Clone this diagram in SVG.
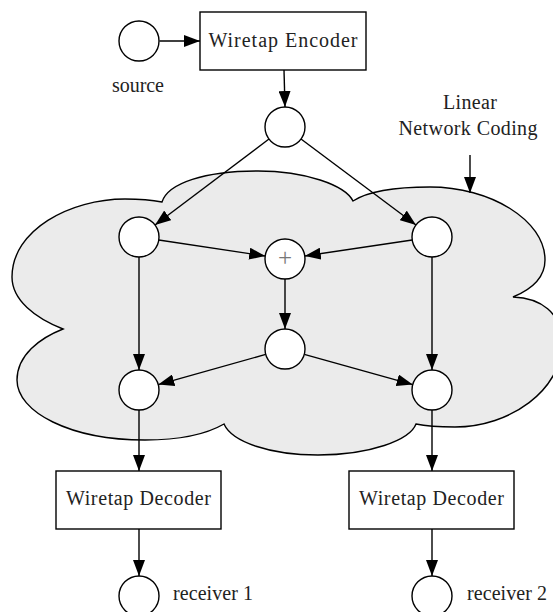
<svg xmlns="http://www.w3.org/2000/svg" width="553" height="612" viewBox="0 0 553 612">
  <style>
    .node { fill: #ffffff; stroke: #000000; stroke-width: 1.4; }
    .box { fill: #ffffff; stroke: #000000; stroke-width: 1.4; }
    .edge { fill: none; stroke: #000000; stroke-width: 1.4; marker-end: url(#arrow); }
    .lbl { font-family: "Liberation Serif", "Times New Roman", serif; font-size: 20px; fill: #222222; }
    .plus { font-family: "Liberation Serif", "Times New Roman", serif; font-size: 25px; fill: #777777; }
    .cloud { fill: #ebebeb; stroke: #000000; stroke-width: 1.4; }
  </style>
  <defs>
    <marker id="arrow" markerUnits="userSpaceOnUse" markerWidth="16" markerHeight="12" refX="16" refY="6" orient="auto">
      <path d="M0,0 L16,6 L0,12 Z" fill="#000000"/>
    </marker>
  </defs>

  <g id="cloud">
    <path class="cloud" d="M162,202 C168,183 205,171 258,171 C305,171 345,185 353,201 C370,190 400,187 430,187 C490,187 545,220 545,260 C545,278 530,290 513,297 C540,298 562,312 562,343 C562,390 510,427 455,427 C440,427 425,426 416,424 C410,440 370,455 318,455 C270,455 232,442 224,424 C205,435 175,440 145,440 C70,440 17,412 17,380 C17,355 40,338 63,329 C35,318 12,300 12,277 C12,230 70,199 125,199 C140,199 152,200 162,202 Z"/>
    <text class="lbl" x="470" y="109" text-anchor="middle" textLength="54">Linear</text>
    <text class="lbl" x="468" y="135" text-anchor="middle" textLength="139">Network Coding</text>
  </g>

  <g id="connectors">
    <line class="edge" x1="159.5" y1="41" x2="200" y2="41"/>
    <line class="edge" x1="284" y1="70" x2="285" y2="107"/>
    <line class="edge" x1="269" y1="139" x2="155" y2="225"/>
    <line class="edge" x1="301" y1="139" x2="416" y2="225"/>
    <line class="edge" x1="158.8" y1="240" x2="265.2" y2="256"/>
    <line class="edge" x1="412.2" y1="240" x2="304.8" y2="256"/>
    <line class="edge" x1="285" y1="279" x2="285" y2="329"/>
    <line class="edge" x1="139" y1="257" x2="139" y2="370"/>
    <line class="edge" x1="432" y1="257" x2="432" y2="370"/>
    <line class="edge" x1="265.7" y1="354.4" x2="158.3" y2="384.6"/>
    <line class="edge" x1="304.3" y1="354.4" x2="412.7" y2="384.6"/>
    <line class="edge" x1="139" y1="410" x2="139" y2="471"/>
    <line class="edge" x1="432" y1="410" x2="432" y2="471"/>
    <line class="edge" x1="139" y1="529" x2="139" y2="576"/>
    <line class="edge" x1="432" y1="529" x2="432" y2="576"/>
    <line class="edge" x1="470" y1="155" x2="470" y2="193"/>
  </g>

  <g id="source">
    <circle class="node" cx="139" cy="41" r="20"/>
    <text class="lbl" x="138" y="92" text-anchor="middle" textLength="52">source</text>
  </g>
  <g id="encoder">
    <rect class="box" x="200" y="12" width="166" height="58"/>
    <text class="lbl" x="283" y="47" text-anchor="middle" textLength="149">Wiretap Encoder</text>
  </g>
  <g id="n-top"><circle class="node" cx="285" cy="127" r="20"/></g>
  <g id="n-left"><circle class="node" cx="139" cy="237" r="20"/></g>
  <g id="n-right"><circle class="node" cx="432" cy="237" r="20"/></g>
  <g id="n-plus">
    <circle class="node" cx="285" cy="259" r="20"/>
    <text class="plus" x="285" y="266" text-anchor="middle">+</text>
  </g>
  <g id="n-mid"><circle class="node" cx="285" cy="349" r="20"/></g>
  <g id="n-left-bottom"><circle class="node" cx="139" cy="390" r="20"/></g>
  <g id="n-right-bottom"><circle class="node" cx="432" cy="390" r="20"/></g>
  <g id="decoder1">
    <rect class="box" x="56" y="471" width="165" height="58"/>
    <text class="lbl" x="138.5" y="505" text-anchor="middle" textLength="145">Wiretap Decoder</text>
  </g>
  <g id="decoder2">
    <rect class="box" x="349" y="471" width="165" height="58"/>
    <text class="lbl" x="431.5" y="505" text-anchor="middle" textLength="145">Wiretap Decoder</text>
  </g>
  <g id="receiver1">
    <circle class="node" cx="139" cy="596" r="20"/>
    <text class="lbl" x="173" y="600" textLength="80">receiver 1</text>
  </g>
  <g id="receiver2">
    <circle class="node" cx="432" cy="596" r="20"/>
    <text class="lbl" x="467" y="600" textLength="80">receiver 2</text>
  </g>
</svg>
